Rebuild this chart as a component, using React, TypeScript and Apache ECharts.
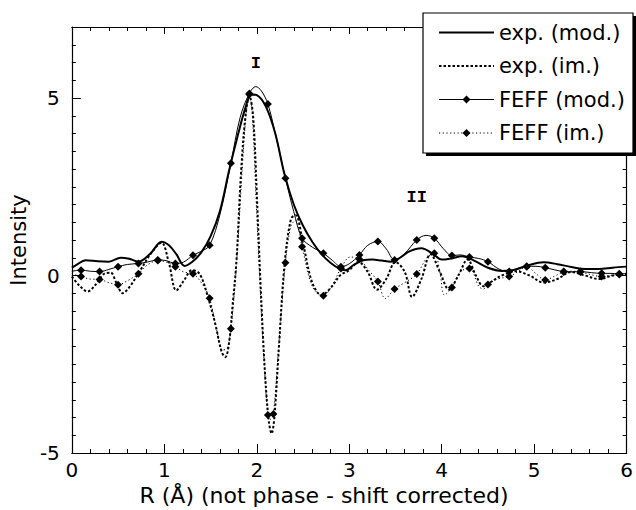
import React, { useEffect, useRef } from "react";
import * as echarts from "echarts";

// ---- data (R in Å, intensity) ----
const expMod: [number, number][] = [
  [0.0, 0.22], [0.05, 0.3], [0.15, 0.43], [0.28, 0.4], [0.4, 0.39], [0.53, 0.5], [0.62, 0.47],
  [0.72, 0.39], [0.85, 0.62], [0.97, 0.95], [1.05, 0.85], [1.13, 0.6], [1.22, 0.27], [1.3, 0.38],
  [1.4, 0.65], [1.5, 1.1], [1.6, 1.8], [1.7, 2.95], [1.8, 4.0], [1.88, 4.75], [1.94, 5.1],
  [2.0, 5.08], [2.1, 4.75], [2.2, 4.0], [2.3, 2.85], [2.4, 2.0], [2.5, 1.4], [2.6, 0.95],
  [2.7, 0.6], [2.8, 0.35], [2.9, 0.18], [2.96, 0.15], [3.05, 0.3], [3.15, 0.43], [3.25, 0.45],
  [3.35, 0.42], [3.45, 0.39], [3.55, 0.5], [3.65, 0.68], [3.78, 0.77], [3.9, 0.62], [4.0, 0.45],
  [4.1, 0.48], [4.22, 0.54], [4.35, 0.42], [4.5, 0.22], [4.65, 0.13], [4.8, 0.17], [4.95, 0.3],
  [5.1, 0.37], [5.25, 0.32], [5.4, 0.24], [5.55, 0.18], [5.7, 0.18], [5.85, 0.22], [6.0, 0.25],
];

const expIm: [number, number][] = [
  [0.0, -0.03], [0.08, -0.28], [0.17, -0.45], [0.26, -0.25], [0.35, 0.05], [0.42, 0.08],
  [0.48, -0.2], [0.55, -0.5], [0.63, -0.3], [0.73, 0.1], [0.85, 0.6], [0.97, 0.92], [1.05, 0.35],
  [1.13, -0.42], [1.21, -0.15], [1.3, 0.15], [1.38, 0.05], [1.46, -0.5], [1.55, -1.35],
  [1.62, -2.15], [1.66, -2.3], [1.7, -1.9], [1.74, -0.8], [1.78, 0.4], [1.83, 2.9], [1.88, 4.55],
  [1.92, 5.05], [1.96, 4.5], [2.0, 2.3], [2.04, -0.2], [2.09, -2.8], [2.13, -4.1], [2.16, -4.45],
  [2.19, -4.0], [2.24, -2.0], [2.3, 0.3], [2.37, 1.6], [2.42, 1.7], [2.5, 0.9], [2.6, -0.2],
  [2.7, -0.55], [2.8, -0.35], [2.9, 0.0], [3.0, 0.15], [3.1, 0.38], [3.2, 0.1], [3.3, -0.4],
  [3.4, -0.1], [3.5, 0.38], [3.6, 0.1], [3.68, -0.6], [3.78, -0.1], [3.88, 0.6], [3.98, 0.1],
  [4.08, -0.4], [4.18, 0.0], [4.28, 0.45], [4.37, 0.0], [4.45, -0.3], [4.55, -0.15], [4.65, 0.0],
  [4.8, 0.12], [4.95, 0.0], [5.1, -0.2], [5.25, -0.1], [5.4, 0.1], [5.55, 0.0], [5.7, -0.1],
  [5.85, 0.0], [6.0, 0.05],
];

const feffMod: [number, number][] = [
  [0.0, 0.12], [0.1, 0.15], [0.2, 0.12], [0.3, 0.11], [0.4, 0.17], [0.5, 0.25], [0.6, 0.31],
  [0.72, 0.34], [0.82, 0.38], [0.93, 0.44], [1.02, 0.42], [1.12, 0.34], [1.21, 0.38], [1.31, 0.57],
  [1.4, 0.68], [1.49, 0.85], [1.6, 1.7], [1.72, 3.16], [1.82, 4.45], [1.92, 5.13], [1.99, 5.32],
  [2.05, 5.2], [2.12, 4.83], [2.2, 4.0], [2.31, 2.74], [2.4, 1.8], [2.49, 1.05], [2.6, 0.8],
  [2.72, 0.63], [2.82, 0.42], [2.91, 0.25], [3.0, 0.33], [3.11, 0.58], [3.2, 0.85], [3.31, 0.96],
  [3.4, 0.75], [3.49, 0.44], [3.6, 0.62], [3.73, 1.0], [3.83, 1.13], [3.92, 1.05], [4.02, 0.75],
  [4.11, 0.56], [4.2, 0.58], [4.3, 0.52], [4.4, 0.48], [4.5, 0.39], [4.62, 0.18], [4.73, 0.11],
  [4.82, 0.2], [4.92, 0.26], [5.02, 0.26], [5.12, 0.22], [5.22, 0.16], [5.32, 0.11], [5.41, 0.1],
  [5.5, 0.11], [5.62, 0.08], [5.73, 0.06], [5.82, 0.06], [5.92, 0.05], [6.0, 0.05],
];

const feffIm: [number, number][] = [
  [0.0, 0.05], [0.1, -0.03], [0.2, -0.1], [0.3, -0.11], [0.4, -0.2], [0.5, -0.26], [0.6, -0.15],
  [0.72, 0.05], [0.82, 0.3], [0.93, 0.42], [1.02, 0.38], [1.12, 0.25], [1.21, 0.1], [1.31, 0.05],
  [1.4, -0.2], [1.49, -0.64], [1.56, -1.45], [1.63, -2.1], [1.68, -2.05], [1.72, -1.5],
  [1.76, -0.4], [1.8, 1.1], [1.85, 3.3], [1.89, 4.7], [1.92, 5.1], [1.95, 4.6], [1.99, 2.3],
  [2.03, 0.0], [2.07, -2.0], [2.12, -3.93], [2.15, -4.05], [2.18, -3.9], [2.24, -1.9], [2.31, 0.36],
  [2.37, 1.4], [2.42, 1.55], [2.49, 0.81], [2.6, -0.3], [2.72, -0.57], [2.82, -0.25], [2.91, 0.2],
  [3.01, 0.52], [3.11, 0.46], [3.21, 0.15], [3.31, -0.17], [3.39, -0.65], [3.49, -0.38],
  [3.6, -0.2], [3.73, 0.04], [3.84, 0.5], [3.92, 0.63], [3.98, 0.1], [4.03, -0.55], [4.11, -0.34],
  [4.2, 0.1], [4.3, 0.2], [4.4, -0.3], [4.45, -0.38], [4.5, -0.25], [4.6, -0.1], [4.73, -0.03],
  [4.82, 0.1], [4.92, 0.25], [5.02, 0.05], [5.12, -0.13], [5.22, -0.02], [5.32, 0.1], [5.41, 0.12],
  [5.5, 0.1], [5.62, 0.02], [5.73, -0.03], [5.82, 0.0], [5.92, 0.03], [6.0, 0.04],
];

const feffModMarkers = [0.1, 0.3, 0.5, 0.72, 0.93, 1.12, 1.31, 1.49, 1.72, 1.92, 2.12, 2.31, 2.49,
  2.72, 2.91, 3.11, 3.31, 3.49, 3.73, 3.92, 4.11, 4.3, 4.5, 4.73, 4.92, 5.12, 5.32, 5.5, 5.73, 5.92];
const feffImMarkers = [0.1, 0.3, 0.5, 0.72, 0.93, 1.12, 1.31, 1.49, 1.72, 1.92, 2.12, 2.18, 2.31,
  2.49, 2.72, 2.91, 3.11, 3.31, 3.49, 3.73, 3.92, 4.11, 4.3, 4.5, 4.73, 4.92, 5.12, 5.32, 5.5, 5.73, 5.92];

const seriesNames = ["exp. (mod.)", "exp. (im.)", "FEFF (mod.)", "FEFF (im.)"];
const yTickLabels = ["-5", "0", "5"];
const peakLabels: { text: string; r: number; v: number }[] = [
  { text: "I", r: 1.99, v: 5.98 },
  { text: "II", r: 3.73, v: 2.2 },
];
const xTitle = "R (Å) (not phase - shift corrected)";
const yTitle = "Intensity";

const FONT = "DejaVu Sans";

function withMarkers(data: [number, number][], marks: number[]) {
  return data.map((p) => ({
    value: p,
    symbol: marks.some((m) => Math.abs(m - p[0]) < 1e-9) ? "diamond" : "none",
  }));
}

export default function App() {
  const ref = useRef<HTMLDivElement>(null);
  useEffect(() => {
    if (!ref.current) return;
    const chart = echarts.init(ref.current, undefined, { renderer: "svg" });
    const axisLine = { show: true, onZero: false, lineStyle: { color: "#000", width: 1.2 } };
    const tick = (len: number) => ({ show: true, inside: true, length: len, lineStyle: { color: "#000", width: 1 } });
    const minor = (n: number) => ({ show: true, splitNumber: n, length: 4, lineStyle: { color: "#000", width: 1 } });
    const option: any = {
      animation: false,
      backgroundColor: "#fff",
      grid: { left: 67, right: 7, top: 27, bottom: 57, containLabel: false },
      xAxis: [
        {
          type: "value", min: 0, max: 6, interval: 1, position: "bottom",
          axisLine, splitLine: { show: false }, axisTick: tick(9), minorTick: minor(5),
          axisLabel: { color: "#000", fontFamily: FONT, fontSize: 20, margin: 7 },
        },
        {
          type: "value", min: 0, max: 6, interval: 1, position: "top",
          axisLine, splitLine: { show: false }, axisTick: tick(7), minorTick: minor(5),
          axisLabel: { show: false },
        },
      ],
      yAxis: [
        {
          type: "value", min: -5, max: 7, interval: 5, position: "left",
          axisLine, splitLine: { show: false }, axisTick: tick(9), minorTick: minor(10),
          axisLabel: {
            color: "#000", fontFamily: FONT, fontSize: 20, margin: 12,
            formatter: (v: number) => (yTickLabels.includes(String(v)) ? String(v) : ""),
          },
          name: yTitle, nameLocation: "middle", nameGap: 36,
          nameTextStyle: { color: "#000", fontFamily: FONT, fontSize: 21 },
        },
        {
          type: "value", min: -5, max: 7, interval: 5, position: "right",
          axisLine, splitLine: { show: false }, axisTick: tick(7), minorTick: minor(10),
          axisLabel: { show: false },
        },
      ],
      legend: {
        orient: "vertical", left: 433, top: 17, itemWidth: 55, itemHeight: 10, itemGap: 12.5,
        data: [
          { name: seriesNames[0], itemStyle: { opacity: 0 }, lineStyle: { width: 2 } },
          { name: seriesNames[1], itemStyle: { opacity: 0 }, lineStyle: { width: 2 } },
          { name: seriesNames[2], lineStyle: { width: 1 } },
          { name: seriesNames[3], lineStyle: { width: 1 } },
        ],
        selectedMode: false, z: 30,
        textStyle: { color: "#000", fontFamily: FONT, fontSize: 21, lineHeight: 20 },
      },
      series: [
        {
          name: seriesNames[0], type: "line", smooth: 0.35, symbol: "none", data: expMod,
          lineStyle: { color: "#000", width: 2 }, itemStyle: { color: "#000" }, z: 3,
        },
        {
          name: seriesNames[1], type: "line", smooth: 0.35, symbol: "none", data: expIm,
          lineStyle: { color: "#000", width: 2, type: [2.5, 2] }, itemStyle: { color: "#000" }, z: 3,
        },
        {
          name: seriesNames[2], type: "line", smooth: 0.35, symbol: "diamond", symbolSize: 8,
          showAllSymbol: true, data: withMarkers(feffMod, feffModMarkers),
          lineStyle: { color: "#000", width: 1 }, itemStyle: { color: "#000" }, z: 4,
        },
        {
          name: seriesNames[3], type: "line", smooth: 0.35, symbol: "diamond", symbolSize: 8,
          showAllSymbol: true, data: withMarkers(feffIm, feffImMarkers),
          lineStyle: { color: "#000", width: 1, type: [1.2, 2.5] }, itemStyle: { color: "#000" }, z: 4,
        },
      ],
    };
    chart.setOption(option);
    const graphics: any[] = [
      { type: "rect", z: 20, shape: { x: 426, y: 16, width: 212, height: 140 }, style: { fill: "#000" } },
      { type: "rect", z: 21, shape: { x: 423, y: 13, width: 210, height: 140 }, style: { fill: "#fff", stroke: "#000", lineWidth: 1.2 } },
      ...peakLabels.map((p) => {
        const [px, py] = chart.convertToPixel({ xAxisIndex: 0, yAxisIndex: 0 }, [p.r, p.v]);
        return {
          type: "text", x: px, y: py, z: 10,
          style: {
            text: p.text, fill: "#000", font: "bold 17px 'Liberation Mono'",
            textAlign: "center", textVerticalAlign: "middle",
          },
        };
      }),
      {
        type: "text", x: 324, y: 495, z: 10,
        style: { text: xTitle, fill: "#000", font: `22px '${FONT}'`, textAlign: "center", textVerticalAlign: "middle" },
      },
    ];
    chart.setOption({ graphic: graphics });
    return () => chart.dispose();
  }, []);
  return <div ref={ref} style={{ width: 636, height: 510, position: "absolute", left: 0, top: 0 }} />;
}
